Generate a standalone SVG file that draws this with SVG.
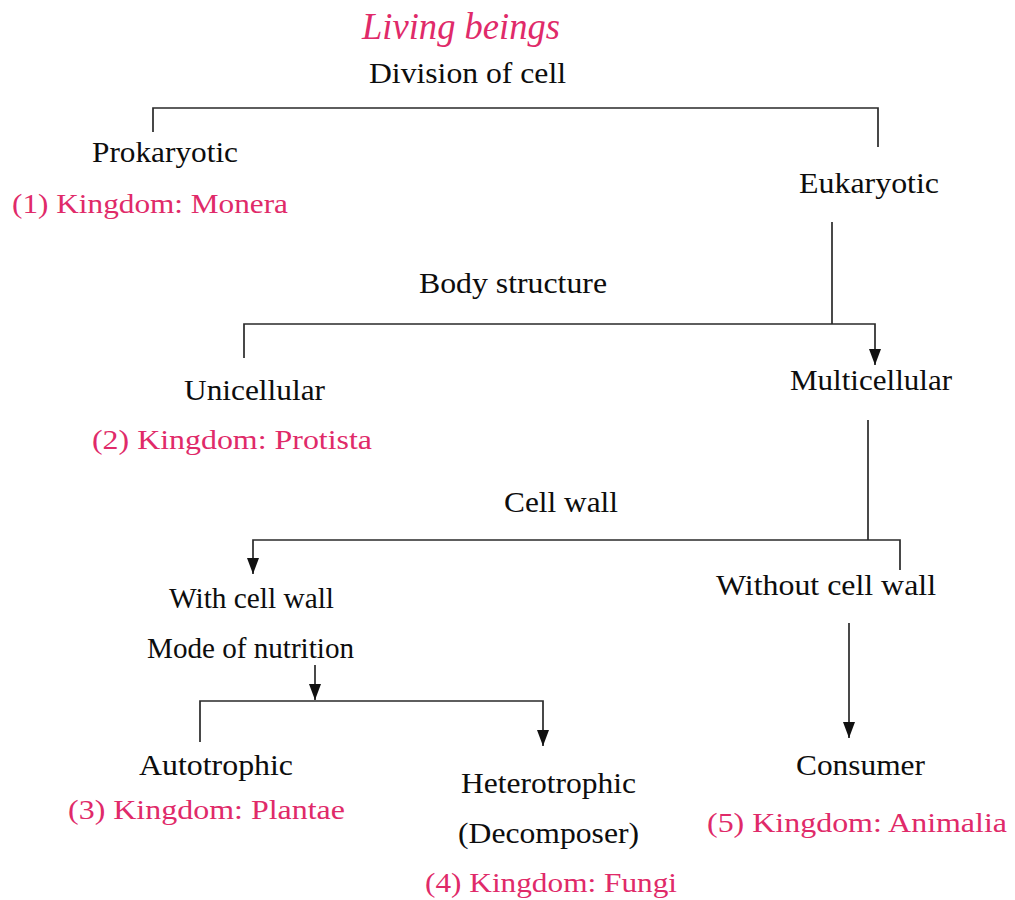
<svg xmlns="http://www.w3.org/2000/svg" width="1015" height="900" viewBox="0 0 1015 900">
<style>
.t{font-family:"Liberation Serif","Times New Roman",serif;font-size:30px;fill:#0d0d0d;text-anchor:middle}
.p{font-family:"Liberation Serif","Times New Roman",serif;font-size:28px;fill:#e02a69;text-anchor:middle}
.h{font-family:"Liberation Serif","Times New Roman",serif;font-size:38px;font-style:italic;fill:#e02a69;text-anchor:middle}
.c{fill:none;stroke:#2a2a2a;stroke-width:1.7}
</style>
<defs>
<marker id="ah" markerUnits="userSpaceOnUse" markerWidth="16" markerHeight="12" refX="16" refY="6" orient="auto">
<path d="M0,0 L16,6 L0,12 z" fill="#111"/>
</marker>
</defs>
<rect width="1015" height="900" fill="#fff"/>
<g id="connectors">
<path class="c" d="M153,132 V108 H878 V147"/>
<path class="c" d="M832,222 V324"/>
<path class="c" d="M244,358 V324 H875 V365" marker-end="url(#ah)"/>
<path class="c" d="M868,420 V540"/>
<path class="c" d="M900,570 V540 H253 V574" marker-end="url(#ah)"/>
<path class="c" d="M315,665 V700" marker-end="url(#ah)"/>
<path class="c" d="M200,742 V701 H543 V746" marker-end="url(#ah)"/>
<path class="c" d="M849,623 V738" marker-end="url(#ah)"/>
</g>
<g id="title"><text class="h" x="461" y="39" textLength="198" lengthAdjust="spacingAndGlyphs">Living beings</text></g>
<g id="division"><text class="t" x="467.5" y="83" textLength="197" lengthAdjust="spacingAndGlyphs">Division of cell</text></g>
<g id="prokaryotic">
<text class="t" x="165" y="162" textLength="146" lengthAdjust="spacingAndGlyphs">Prokaryotic</text>
<text class="p" x="150" y="213" textLength="276" lengthAdjust="spacingAndGlyphs">(1) Kingdom: Monera</text>
</g>
<g id="eukaryotic"><text class="t" x="869" y="193" textLength="140" lengthAdjust="spacingAndGlyphs">Eukaryotic</text></g>
<g id="body-structure"><text class="t" x="513" y="293" textLength="188" lengthAdjust="spacingAndGlyphs">Body structure</text></g>
<g id="unicellular">
<text class="t" x="254.5" y="400" textLength="141" lengthAdjust="spacingAndGlyphs">Unicellular</text>
<text class="p" x="232" y="449" textLength="280" lengthAdjust="spacingAndGlyphs">(2) Kingdom: Protista</text>
</g>
<g id="multicellular"><text class="t" x="871" y="390" textLength="162" lengthAdjust="spacingAndGlyphs">Multicellular</text></g>
<g id="cell-wall"><text class="t" x="561" y="512" textLength="114" lengthAdjust="spacingAndGlyphs">Cell wall</text></g>
<g id="with-cell-wall">
<text class="t" x="251.5" y="608" textLength="165" lengthAdjust="spacingAndGlyphs">With cell wall</text>
<text class="t" x="250.5" y="658" textLength="207" lengthAdjust="spacingAndGlyphs">Mode of nutrition</text>
</g>
<g id="without-cell-wall"><text class="t" x="826" y="595" textLength="220" lengthAdjust="spacingAndGlyphs">Without cell wall</text></g>
<g id="autotrophic">
<text class="t" x="216" y="775" textLength="154" lengthAdjust="spacingAndGlyphs">Autotrophic</text>
<text class="p" x="206.5" y="819" textLength="277" lengthAdjust="spacingAndGlyphs">(3) Kingdom: Plantae</text>
</g>
<g id="heterotrophic">
<text class="t" x="548.5" y="793" textLength="175" lengthAdjust="spacingAndGlyphs">Heterotrophic</text>
<text class="t" x="548.5" y="843" textLength="181" lengthAdjust="spacingAndGlyphs">(Decomposer)</text>
<text class="p" x="551" y="892" textLength="252" lengthAdjust="spacingAndGlyphs">(4) Kingdom: Fungi</text>
</g>
<g id="consumer">
<text class="t" x="860.5" y="775" textLength="129" lengthAdjust="spacingAndGlyphs">Consumer</text>
<text class="p" x="857" y="832" textLength="300" lengthAdjust="spacingAndGlyphs">(5) Kingdom: Animalia</text>
</g>
</svg>
